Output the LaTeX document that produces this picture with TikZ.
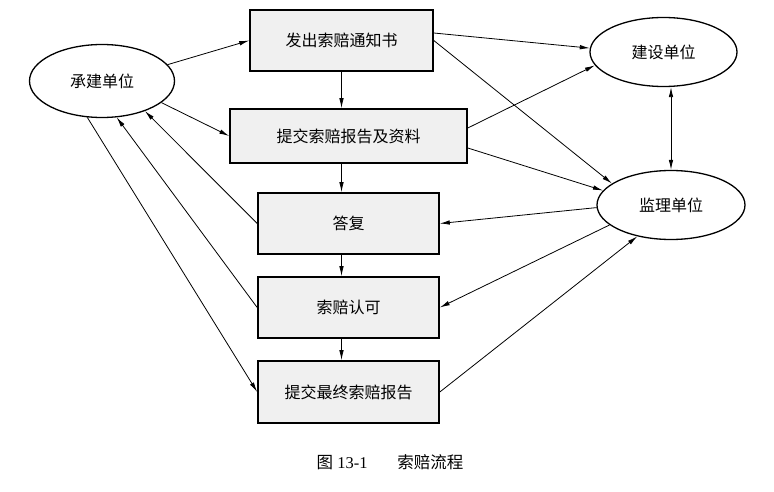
\documentclass[tikz,border=0pt]{standalone}
\usepackage{fontspec}
\setmainfont{Liberation Serif}
\newfontfamily\cjk{Noto Sans CJK SC}
\usetikzlibrary{shapes.geometric,arrows.meta,calc}
\begin{document}
\begin{tikzpicture}[x=1pt,y=-1pt,
  box/.style={draw,line width=1.6pt,fill=black!6,inner sep=0pt,font=\fontsize{16}{19}\selectfont\cjk},
  unit/.style={ellipse,draw,line width=1.3pt,fill=white,inner sep=0pt,font=\fontsize{16}{19}\selectfont\cjk},
  conn/.style={line width=0.8pt,-{Latex[length=10pt,width=4.5pt]}},
  dconn/.style={line width=0.8pt,{Latex[length=10pt,width=4.5pt]}-{Latex[length=10pt,width=4.5pt]}}]
\useasboundingbox (0,0) rectangle (774,492);
% boxes
\node[box,minimum width=183pt,minimum height=61pt] (b1) at (341.5,40.5) {发出索赔通知书};
\node[box,minimum width=237pt,minimum height=54pt] (b2) at (348.5,136) {提交索赔报告及资料};
\node[box,minimum width=181pt,minimum height=61pt] (b3) at (348.5,223.5) {答复};
\node[box,minimum width=181pt,minimum height=61pt] (b4) at (348.5,307.5) {索赔认可};
\node[box,minimum width=181pt,minimum height=62pt] (b5) at (348.5,392) {提交最终索赔报告};
% ellipses
\node[unit,minimum width=145pt,minimum height=73pt] (ce) at (102,81) {承建单位};
\node[unit,minimum width=147pt,minimum height=69pt] (js) at (663.5,52) {建设单位};
\node[unit,minimum width=148pt,minimum height=69pt] (jl) at (671,205) {监理单位};
% vertical flow
\draw[conn] (b1.south) -- (b1.south |- b2.north);
\draw[conn] (b1.south |- b2.south) -- (b1.south |- b3.north);
\draw[conn] (b1.south |- b3.south) -- (b1.south |- b4.north);
\draw[conn] (b1.south |- b4.south) -- (b1.south |- b5.north);
% contractor links
\draw[conn] (ce.14) -- (b1.west);
\draw[conn] (ce.-20) -- (b2.west);
\draw[conn] (b3.west) -- (ce.-35);
\draw[conn] (b4.west) -- (ce.-68);
\draw[conn] (ce.-112) -- (b5.west);
% owner / supervisor links
\draw[conn] ([yshift=7.5pt]b1.east) -- (js.177);
\draw[conn] (b1.east) -- (jl.160);
\draw[conn] ([yshift=8pt]b2.east) -- (js.191);
\draw[conn] ([yshift=-12pt]b2.east) -- (jl.168);
\draw[dconn] (js.south -| jl.north) -- (jl.north);
\draw[conn] (jl.182) -- (b3.east);
\draw[conn] (jl.198) -- (b4.east);
\draw[conn] (b5.east) -- (jl.223);
% caption
\node[font=\fontsize{16.5}{19}\selectfont] (cap) at (390,462) {{\cjk 图} 13-1\hspace{1.8em}{\cjk 索赔流程}};
\end{tikzpicture}
\end{document}
